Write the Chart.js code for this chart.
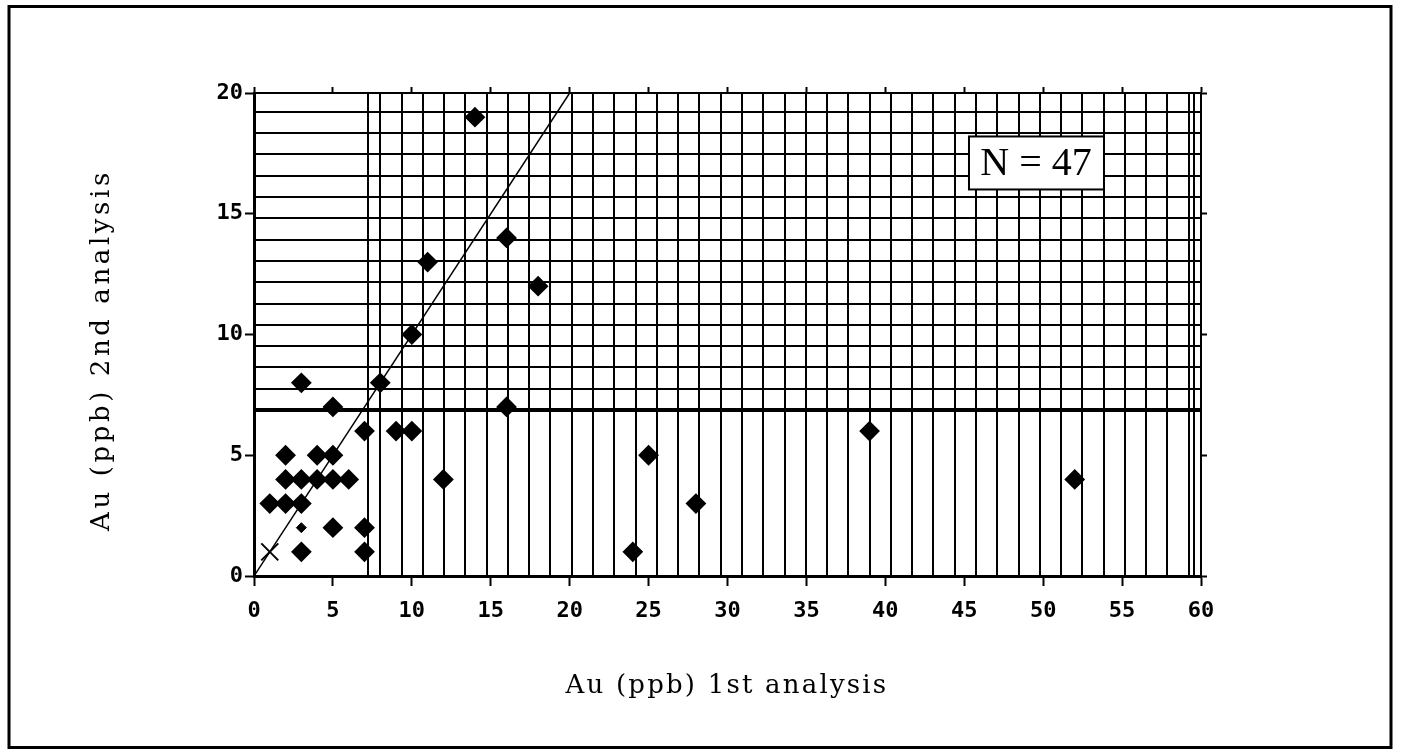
<!DOCTYPE html>
<html>
<head>
<meta charset="utf-8">
<script src="https://cdn.jsdelivr.net/npm/chart.js@4.4.0/dist/chart.umd.min.js"></script>
<style>
  html, body { margin: 0; padding: 0; background: #fff; }
  #wrap { width: 1402px; height: 755px; }
</style>
</head>
<body>
<div id="wrap"><canvas id="auChart" width="1402" height="755"></canvas></div>
<script>
// Au duplicate analyses (ppb): 1st run on x, 2nd run on y
const firstRun  = [14, 16, 11, 18, 10, 3, 8, 5, 16, 7, 9, 10, 2, 4, 5, 2, 3, 4, 5, 6, 12, 1, 2, 3, 25, 24, 28, 39, 52, 5, 7, 3, 7];
const secondRun = [19, 14, 13, 12, 10, 8, 8, 7, 7, 6, 6, 6, 5, 5, 5, 4, 4, 4, 4, 4, 4, 3, 3, 3, 5, 1, 3, 6, 4, 2, 2, 1, 1];
// half hidden marks near the origin
const smallX = [3];
const smallY = [2];
const crossX = [1];
const crossY = [1];
// 1:1 reference line
const lineX = [0, 20];
const lineY = [0, 20];
const xTickStep = 5;
const yTickStep = 5;
const sampleCount = 47;

// hatch lines of the old plot (in data units)
const vGrid = [7.24, 59.55];
for (let k = 0; k < 39; k++) vGrid.push(8 + k * 1.348);
const hGrid = [];
for (let k = 0; k < 15; k++) hGrid.push(6.87 + k * 0.882);

const pts = (xs, ys) => xs.map((x, i) => ({ x: x, y: ys[i] }));

const tickFont = { family: 'DejaVu Sans Mono', size: 22, weight: 'bold' };

const frame = {
  id: 'frame',
  beforeDraw(chart) {
    const c = chart.ctx;
    c.save();
    c.fillStyle = '#fff';
    c.fillRect(0, 0, chart.width, chart.height);
    c.strokeStyle = '#000';
    c.lineWidth = 3;
    c.strokeRect(9, 6.5, 1382, 741);
    c.restore();
  },
  afterDraw(chart) {
    const c = chart.ctx;
    const xs = chart.scales.x, ys = chart.scales.y;
    c.save();
    // N box
    const bx = xs.getPixelForValue(45.3), by = ys.getPixelForValue(18.2);
    c.fillStyle = '#fff';
    c.fillRect(bx, by, 135, 53);
    c.strokeStyle = '#000';
    c.lineWidth = 2;
    c.strokeRect(bx, by, 135, 53);
    c.fillStyle = '#000';
    c.font = '40px "Liberation Serif"';
    c.textAlign = 'center';
    c.textBaseline = 'middle';
    c.fillText('N = ' + sampleCount, bx + 67, by + 28);
    // axis titles
    c.font = '26px "DejaVu Serif"';
    c.letterSpacing = '2.2px';
    c.fillText('Au (ppb) 1st analysis', 727, 686);
    c.translate(102, 350);
    c.rotate(-Math.PI / 2);
    c.letterSpacing = '3.6px';
    c.fillText('Au (ppb) 2nd analysis', 0, 0);
    c.restore();
  }
};

new Chart(document.getElementById('auChart'), {
  data: {
    datasets: [
      {
        type: 'line',
        data: pts(lineX, lineY),
        borderColor: '#000',
        borderWidth: 1.5,
        pointRadius: 0,
        order: 3
      },
      {
        type: 'scatter',
        data: pts(firstRun, secondRun),
        pointStyle: 'rectRot',
        pointRadius: 9,
        pointBackgroundColor: '#000',
        pointBorderColor: '#000',
        pointBorderWidth: 2,
        order: 1
      },
      {
        type: 'scatter',
        data: pts(smallX, smallY),
        pointStyle: 'rectRot',
        pointRadius: 5,
        pointBackgroundColor: '#000',
        pointBorderColor: '#000',
        order: 2
      },
      {
        type: 'scatter',
        data: pts(crossX, crossY),
        pointStyle: 'crossRot',
        pointRadius: 12,
        pointBorderColor: '#000',
        pointBorderWidth: 2,
        order: 2
      }
    ]
  },
  options: {
    responsive: false,
    animation: false,
    devicePixelRatio: 1,
    layout: { padding: { left: 0, top: 87, right: 195, bottom: 0 } },
    plugins: { legend: { display: false }, tooltip: { enabled: false } },
    scales: {
      x: {
        type: 'linear', position: 'bottom', min: 0, max: 60,
        ticks: { stepSize: xTickStep, font: tickFont, color: '#000', padding: 12, maxRotation: 0 },
        grid: { drawOnChartArea: false, tickLength: 10, tickWidth: 2, tickColor: '#000' },
        border: { color: '#000', width: 3 },
        afterFit: s => { s.height = 179; }
      },
      y: {
        type: 'linear', position: 'left', min: 0, max: 20,
        ticks: { stepSize: yTickStep, font: tickFont, color: '#000', padding: 2 },
        grid: { drawOnChartArea: false, tickLength: 9, tickWidth: 2, tickColor: '#000' },
        border: { color: '#000', width: 3 },
        afterFit: s => { s.width = 254; }
      },
      xTop: {
        type: 'linear', position: 'top', min: 0, max: 60,
        ticks: { stepSize: xTickStep, display: false },
        grid: { drawOnChartArea: false, tickLength: 6, tickWidth: 2, tickColor: '#000' },
        border: { color: '#000', width: 2 },
        afterFit: s => { s.height = 6; }
      },
      yRight: {
        type: 'linear', position: 'right', min: 0, max: 20,
        ticks: { stepSize: yTickStep, display: false },
        grid: { drawOnChartArea: false, tickLength: 6, tickWidth: 2, tickColor: '#000' },
        border: { color: '#000', width: 2 },
        afterFit: s => { s.width = 6; }
      },
      xGrid: {
        type: 'linear', position: 'bottom', min: 0, max: 60,
        afterBuildTicks: s => { s.ticks = vGrid.map(v => ({ value: v })); },
        ticks: { display: false },
        grid: { drawTicks: false, color: '#000', lineWidth: 2 },
        border: { display: false },
        afterFit: s => { s.height = 0; }
      },
      yGrid: {
        type: 'linear', position: 'left', min: 0, max: 20,
        afterBuildTicks: s => { s.ticks = hGrid.map(v => ({ value: v })); },
        ticks: { display: false },
        grid: { drawTicks: false, color: '#000', lineWidth: ctx => ctx.index === 0 ? 4 : 2 },
        border: { display: false },
        afterFit: s => { s.width = 0; }
      }
    }
  },
  plugins: [frame]
});
</script>
</body>
</html>
